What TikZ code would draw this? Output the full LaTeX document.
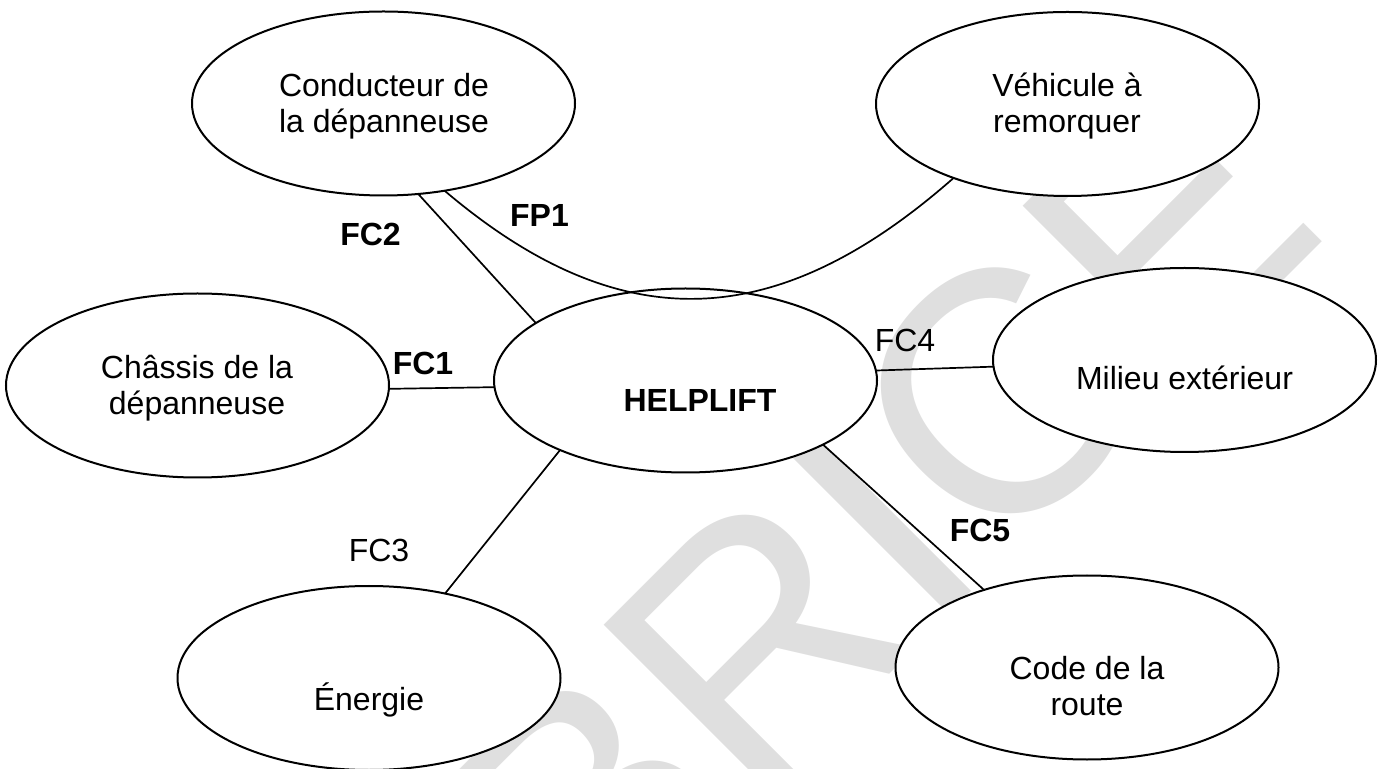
\documentclass[tikz,border=0pt]{standalone}
\usepackage{fontspec}
\setmainfont{Liberation Sans}
\usetikzlibrary{shapes}
\tikzstyle{bulle} = [ellipse, draw, fill=white, line width=1pt, inner sep=0pt, outer sep=0pt, minimum width=191.5pt, minimum height=92pt]
\tikzstyle{txt} = [anchor=base, align=center, inner sep=0pt, font=\fontsize{16}{18}\selectfont]
\tikzstyle{txtg} = [txt, font=\fontsize{16}{18}\selectfont\bfseries]
\tikzstyle{lien} = [line width=0.85pt]

\begin{document}
\begin{tikzpicture}[x=0.5pt, y=-0.5pt]
  \useasboundingbox (0,0) rectangle (1381,769);
  % filigrane en fond
  \begin{scope}
    \clip (0,0) rectangle (1381,769);
    \node[rotate=45, inner sep=0pt, text=gray!25, font=\fontsize{172}{172}\selectfont] (filigrane) at (877,519) {BRICE};
  \end{scope}

  \foreach \nom/\x/\y in {cond/383.5/103.5, veh/1067.5/104, chas/197.5/385.5, help/685.5/380.5, mil/1184.5/360, nrj/369/678, code/1087/667.5}
    \node[bulle] (\nom) at (\x,\y) {};

  % base = derniere ligne du texte
  \node[txt] (cond-t) at (384,133) {Conducteur de\\la dépanneuse};
  \node[txt] (veh-t) at (1067,133) {Véhicule à\\remorquer};
  \node[txt] (chas-t) at (197,415) {Châssis de la\\dépanneuse};
  \node[txtg] (help-t) at (700,412) {HELPLIFT};
  \node[txt] (mil-t) at (1184.5,390) {Milieu extérieur};
  \node[txt] (nrj-t) at (369,710) {Énergie};
  \node[txt] (code-t) at (1087,715) {Code de la\\route};

  % fonctions
  \foreach \a/\b in {cond.-69.5/help.159.8, chas.-1.6/help.182.5, help.-151/nrj.48.6, help.3.1/mil.182.2, help.-25.8/code.143.3}
    \draw[lien] (\a) -- (\b);
  \draw[lien] (cond.-55.6) .. controls (617,337) and (773,337) .. (veh.-147.8);

  \node[txtg] (fp1) at (539.5,227) {FP1};
  \node[txtg] (fc1) at (423,375) {FC1};
  \node[txtg] (fc2) at (370.5,246) {FC2};
  \node[txt] (fc3) at (379,562) {FC3};
  \node[txt] (fc4) at (905,352) {FC4};
  \node[txtg] (fc5) at (980,542) {FC5};
\end{tikzpicture}
\end{document}
